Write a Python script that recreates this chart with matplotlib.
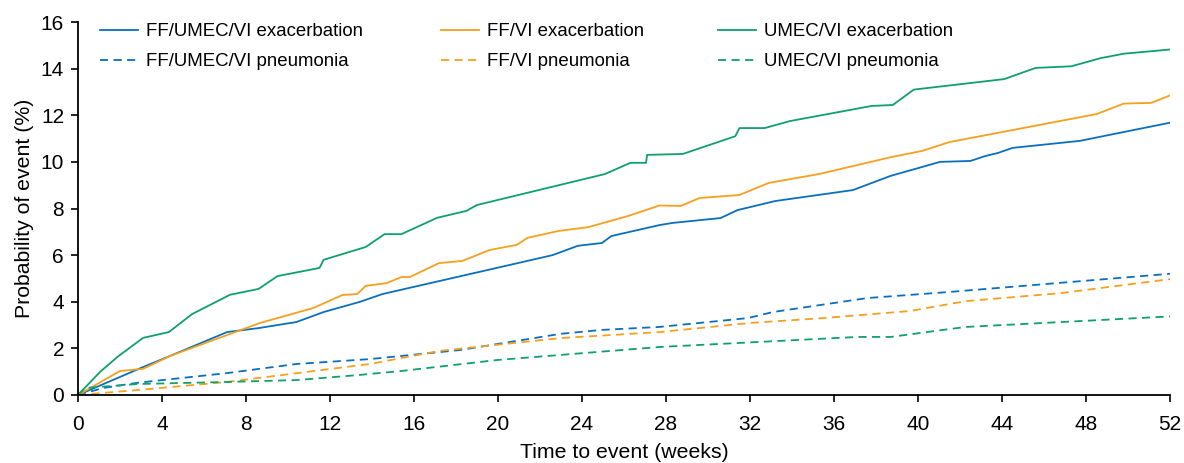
import matplotlib
matplotlib.use("Agg")
import matplotlib.pyplot as plt

plt.rcParams['font.family'] = ['Liberation Sans', 'DejaVu Sans']

# ---- data (weeks, probability %) ----
tri_exac_x = [0, 3.1, 4.4, 7.1, 8.6, 10.4, 11.7, 13.4, 14.5, 22.6, 23.8, 24.95, 25.4, 27.7,
              28.3, 30.6, 31.4, 33.2, 36.9, 38.7, 41.05, 42.5, 43.2, 43.8, 44.5, 47.7, 52]
tri_exac_y = [0, 1.2, 1.68, 2.7, 2.87, 3.13, 3.56, 3.99, 4.33, 6.0, 6.4, 6.52, 6.82, 7.29,
              7.38, 7.59, 7.93, 8.32, 8.79, 9.4, 10.0, 10.04, 10.25, 10.38, 10.6, 10.9, 11.68]

ffvi_exac_x = [0, 2.0, 3.1, 4.4, 8.67, 11.2, 12.6, 13.3, 13.7, 14.7, 15.4, 15.8, 17.2, 18.3,
               19.6, 20.9, 21.4, 22.9, 24.3, 26.2, 27.7, 28.7, 29.6, 31.5, 32.9, 35.3, 38.7,
               40.2, 41.5, 48.5, 49.8, 51.1, 52]
ffvi_exac_y = [0, 1.03, 1.12, 1.68, 3.09, 3.73, 4.29, 4.33, 4.68, 4.8, 5.06, 5.06, 5.66, 5.75,
               6.22, 6.44, 6.74, 7.04, 7.2, 7.68, 8.13, 8.11, 8.45, 8.58, 9.1, 9.48, 10.2,
               10.47, 10.85, 12.05, 12.5, 12.53, 12.85]

umvi_exac_x = [0, 1.05, 1.9, 3.1, 4.33, 5.43, 7.24, 8.6, 9.5, 11.5, 11.7, 13.7, 14.6, 15.4,
               17.1, 18.5, 19.0, 25.1, 26.3, 27.05, 27.1, 28.8, 31.3, 31.5, 32.7, 33.9, 37.8,
               38.8, 39.8, 44.1, 45.6, 47.3, 48.7, 49.8, 52]
umvi_exac_y = [0, 0.99, 1.65, 2.45, 2.7, 3.47, 4.3, 4.55, 5.1, 5.45, 5.8, 6.35, 6.9, 6.9,
               7.6, 7.9, 8.15, 9.48, 9.96, 9.96, 10.3, 10.34, 11.1, 11.45, 11.45, 11.75, 12.4,
               12.44, 13.1, 13.55, 14.03, 14.1, 14.45, 14.64, 14.82]

tri_pneu_x = [0, 1.2, 2.8, 7.1, 10.4, 13.9, 18.2, 22.95, 24.9, 27.7, 31.9, 33.1, 37.6, 41.5, 52]
tri_pneu_y = [0, 0.3, 0.52, 0.94, 1.33, 1.54, 1.93, 2.62, 2.79, 2.92, 3.3, 3.56, 4.16, 4.42, 5.2]

ffvi_pneu_x = [0, 2.8, 7.1, 13.9, 17.2, 22.95, 27.7, 32.0, 35.5, 39.6, 42.3, 46.8, 52]
ffvi_pneu_y = [0, 0.21, 0.56, 1.33, 1.89, 2.44, 2.7, 3.09, 3.3, 3.6, 4.03, 4.37, 4.97]

umvi_pneu_x = [0, 0.33, 2.8, 7.1, 10.4, 13.4, 15.4, 19.95, 27.7, 37.1, 38.7, 41.5, 42.3, 52]
umvi_pneu_y = [0, 0.3, 0.47, 0.56, 0.64, 0.86, 1.03, 1.5, 2.06, 2.49, 2.49, 2.83, 2.92, 3.37]

labels = ["FF/UMEC/VI exacerbation", "FF/UMEC/VI pneumonia",
          "FF/VI exacerbation", "FF/VI pneumonia",
          "UMEC/VI exacerbation", "UMEC/VI pneumonia"]

x_ticks = list(range(0, 53, 4))
y_ticks = list(range(0, 17, 2))

BLUE = '#0A6FBD'
ORANGE = '#F5A01E'
GREEN = '#0FA06C'

W, H = 1184, 463
fig = plt.figure(figsize=(W / 100, H / 100), dpi=100)
ax = fig.add_axes([78 / W, (H - 395) / H, (1170 - 78) / W, (395 - 22) / H])

lw = 1.3
dash = (0, (4.5, 3))
h = []
h += ax.plot(tri_exac_x, tri_exac_y, color=BLUE, lw=lw, label=labels[0])
h += ax.plot(tri_pneu_x, tri_pneu_y, color=BLUE, lw=lw, ls=dash, label=labels[1])
h += ax.plot(ffvi_exac_x, ffvi_exac_y, color=ORANGE, lw=lw, label=labels[2])
h += ax.plot(ffvi_pneu_x, ffvi_pneu_y, color=ORANGE, lw=lw, ls=dash, label=labels[3])
h += ax.plot(umvi_exac_x, umvi_exac_y, color=GREEN, lw=lw, label=labels[4])
h += ax.plot(umvi_pneu_x, umvi_pneu_y, color=GREEN, lw=lw, ls=dash, label=labels[5])

ax.set_xlim(0, 52)
ax.set_ylim(0, 16)
ax.set_xticks(x_ticks)
ax.set_yticks(y_ticks)
ax.spines['top'].set_visible(False)
ax.spines['right'].set_visible(False)
for s in ('left', 'bottom'):
    ax.spines[s].set_linewidth(1.3)
ax.tick_params(direction='out', length=5, width=1.2, labelsize=15)
ax.tick_params(axis='x', pad=9.5)
ax.tick_params(axis='y', pad=5)
ax.set_xlabel("Time to event (weeks)", fontsize=15.3, labelpad=6.5)
ax.set_ylabel("Probability of event (%)", fontsize=15.3, labelpad=5)

# three legend columns placed individually
col_x = [100, 441, 718]
for i, cx in enumerate(col_x):
    leg = fig.legend(handles=h[2 * i:2 * i + 2], labels=labels[2 * i:2 * i + 2],
                     loc='upper left', bbox_to_anchor=(cx / W, 1 - 23 / H),
                     bbox_transform=fig.transFigure, frameon=False, fontsize=13.4,
                     handlelength=2.05, handletextpad=0.43, borderpad=0,
                     borderaxespad=0, labelspacing=0.72)

fig.savefig("out.png", dpi=100)
